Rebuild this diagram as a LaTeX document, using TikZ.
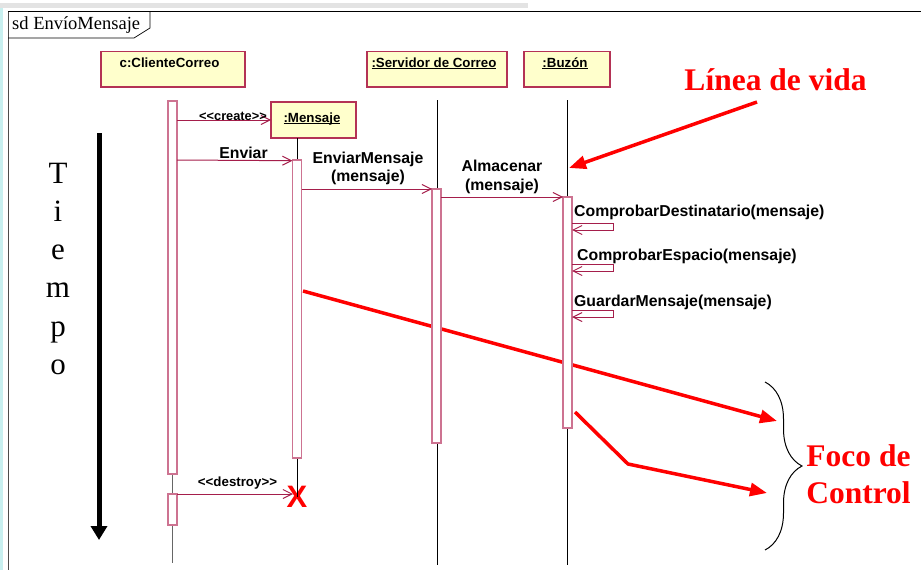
\documentclass[tikz,border=0pt]{standalone}
\usepackage{fontspec}
\setmainfont{Liberation Serif}
\setsansfont{Liberation Sans}
\usetikzlibrary{arrows.meta,decorations.pathreplacing,calc}
\definecolor{boxfill}{RGB}{255,255,204}
\definecolor{boxline}{RGB}{180,50,85}
\definecolor{msgline}{RGB}{165,30,75}
\definecolor{actline}{RGB}{205,115,145}
\definecolor{annot}{RGB}{255,0,0}
\definecolor{cyanedge}{RGB}{200,240,240}
\newcommand\myul[1]{\setbox0\hbox{#1}\rlap{\rule[-1.6pt]{\wd0}{0.9pt}}\box0}
\tikzset{
  obj/.style={draw=boxline, line width=1.2pt, fill=boxfill, inner sep=0pt, outer sep=0pt},
  objtext/.style={font=\sffamily\bfseries\fontsize{13.3}{15}\selectfont, inner sep=0pt, anchor=base},
  actbar/.style={draw=actline, line width=1.2pt, fill=white, minimum width=9pt, inner sep=0pt, outer sep=0pt},
  life/.style={draw=black, line width=0.8pt},
  msg/.style={draw=msgline, line width=1pt, -{Straight Barb[length=9pt,width=9pt]}},
  msglabel/.style={font=\sffamily\bfseries\fontsize{15.8}{18}\selectfont, inner sep=0pt, anchor=base},
  stlabel/.style={font=\sffamily\bfseries\fontsize{12.8}{15}\selectfont, inner sep=0pt, anchor=base},
  redarrow/.style={draw=annot, line width=3.5pt, -{Triangle[length=17pt,width=13pt]}},
  redtext/.style={text=annot, font=\bfseries\fontsize{31.5}{37}\selectfont, inner sep=0pt},
  timeletter/.style={font=\fontsize{31}{36}\selectfont, inner sep=0pt, anchor=base}
}
\begin{document}
\begin{tikzpicture}[x=1pt,y=-1pt]
\useasboundingbox (0,0) rectangle (921,570);
% page artefacts
\fill[gray!22] (0,3) rectangle (528,8);
\fill[cyanedge] (0,8) rectangle (2.5,570);
% frame
\draw[line width=0.9pt] (8,11.5) -- (921,11.5);
\draw[line width=0.9pt, black!70] (8,11.5) -- (8,570);
\draw[line width=0.7pt] (8,38) -- (134,38) -- (150,28) -- (150,11.5);
\node[inner sep=0pt, anchor=base west, font=\fontsize{18.5}{22}\selectfont] (frameLabel) at (12,29) {sd EnvíoMensaje};

% object boxes
\node[obj, minimum width=144pt, minimum height=35.5pt] (cli) at (173,69.25) {};
\node[obj, minimum width=140pt, minimum height=35.5pt] (srv) at (437,69.25) {};
\node[obj, minimum width=86pt, minimum height=35.5pt] (buz) at (567,69.25) {};
\node[obj, minimum width=85pt, minimum height=36pt] (men) at (313.5,120) {};
\node[objtext] (cliT) at (169.5,67) {c:ClienteCorreo};
\node[objtext] (srvT) at (434,67) {\myul{:Servidor de Correo}};
\node[objtext] (buzT) at (565,67) {\myul{:Buzón}};
\node[objtext] (menT) at (312,122) {\myul{:Mensaje}};

% lifeline end points
\coordinate (cliTop) at (172.5,100);
\coordinate (cliEnd) at (172.5,563);
\coordinate (srvTop) at (437,100);
\coordinate (srvEnd) at (437,565);
\coordinate (buzTop) at (567,100);
\coordinate (buzEnd) at (567,565);
\coordinate (menTop) at (297,138);

% activation geometry (named nodes, drawn later)
\path (172.5,287.5) node[actbar, minimum height=373pt, draw=none, fill=none] (c1) {};
\path (172.5,509.5) node[actbar, minimum height=31pt, draw=none, fill=none] (c2) {};
\path (297,309) node[actbar, minimum height=298pt, draw=none, fill=none] (m1) {};
\path (436.5,316) node[actbar, minimum height=254pt, draw=none, fill=none] (s1) {};
\path (567.5,312.5) node[actbar, minimum height=231pt, draw=none, fill=none] (b1) {};

\node[text=annot, font=\sffamily\bfseries\fontsize{31}{31}\selectfont, inner sep=0pt] (X) at (297,497) {X};

% lifelines
\draw[life, draw=black!60] (cliTop) -- (cliEnd);
\draw[life] (srvTop) -- (srvEnd);
\draw[life] (buzTop) -- (buzEnd);
\draw[life] (menTop) -- (m1.north);
\draw[life] (m1.south) -- (X.center);

% red annotations (behind activation bars)
\coordinate (lvStart) at (757,102);
\coordinate (lvTip) at (569,168);
\coordinate (fc1Start) at (303,291);
\coordinate (fc1Tip) at (777,421);
\coordinate (fc2Start) at (575,412);
\coordinate (fc2Bend) at (628,464);
\coordinate (fc2Tip) at (767,493);
\draw[redarrow] (lvStart) -- (lvTip);
\draw[redarrow] (fc1Start) -- (fc1Tip);
\draw[redarrow] (fc2Start) -- (fc2Bend) -- (fc2Tip);

% activation bars
\node[actbar, minimum height=373pt] (c1v) at (c1) {};
\node[actbar, minimum height=31pt] (c2v) at (c2) {};
\node[actbar, minimum height=298pt] (m1v) at (m1) {};
\node[actbar, minimum height=254pt] (s1v) at (s1) {};
\node[actbar, minimum height=231pt] (b1v) at (b1) {};

% messages
\draw[msg] (c1.east |- men.west) -- (men.west);
\node[stlabel] (lblCreate) at (233,120) {<{}<create>{}>};
\draw[msg] (m1.north west -| c1.east) -- ([yshift=-0.7pt]m1.north west);
\node[msglabel] (lblEnviar) at (243.5,158) {Enviar};
\draw[msg] (s1.north west -| m1.east) -- (s1.north west);
\node[msglabel, align=center] (lblEnvMsg) at (368,181) {EnviarMensaje\\(mensaje)};
\draw[msg] (b1.north west -| s1.east) -- (b1.north west);
\node[msglabel, align=center, font=\sffamily\bfseries\fontsize{15.8}{19}\selectfont] (lblAlm) at (502,190) {Almacenar\\(mensaje)};

\draw[msg] ([yshift=-26pt]b1.north east) -- ++(41,0) -- ++(0,7) -- ([yshift=-33pt]b1.north east);
\node[msglabel, anchor=base west] (lblCD) at (574,216) {ComprobarDestinatario(mensaje)};
\draw[msg] ([yshift=-67pt]b1.north east) -- ++(41,0) -- ++(0,7) -- ([yshift=-74pt]b1.north east);
\node[msglabel, anchor=base west] (lblCE) at (577,260.7) {ComprobarEspacio(mensaje)};
\draw[msg] ([yshift=-113pt]b1.north east) -- ++(41,0) -- ++(0,7) -- ([yshift=-120pt]b1.north east);
\node[msglabel, anchor=base west] (lblGM) at (574,306.5) {GuardarMensaje(mensaje)};

\draw[msg] (c2.north east) -- ([xshift=-4pt]X.center |- c2.north);
\node[stlabel, font=\sffamily\bfseries\fontsize{13.3}{15}\selectfont] (lblDestroy) at (237.5,486) {<{}<destroy>{}>};

% annotation texts
\node[redtext, anchor=base] (lineaVida) at (775.5,90) {Línea de vida};
\node[redtext, anchor=base, align=center] (foco) at (858.5,503) {Foco de\\Control};
\draw[line width=1pt, decorate, decoration={brace, amplitude=37pt}] (765,382) -- (765,550);

% time axis
\coordinate (tStart) at (99,133);
\coordinate (tEnd) at (99,540);
\draw[line width=5pt, -{Triangle[length=14pt,width=16pt]}] (tStart) -- (tEnd);
\node[timeletter] (tT) at (58,183) {T};
\node[timeletter] (tI) at (58,221.3) {i};
\node[timeletter] (tE) at (58,259.6) {e};
\node[timeletter] (tM) at (58,297.9) {m};
\node[timeletter] (tP) at (58,336.2) {p};
\node[timeletter] (tO) at (58,374.5) {o};
\end{tikzpicture}
\end{document}
